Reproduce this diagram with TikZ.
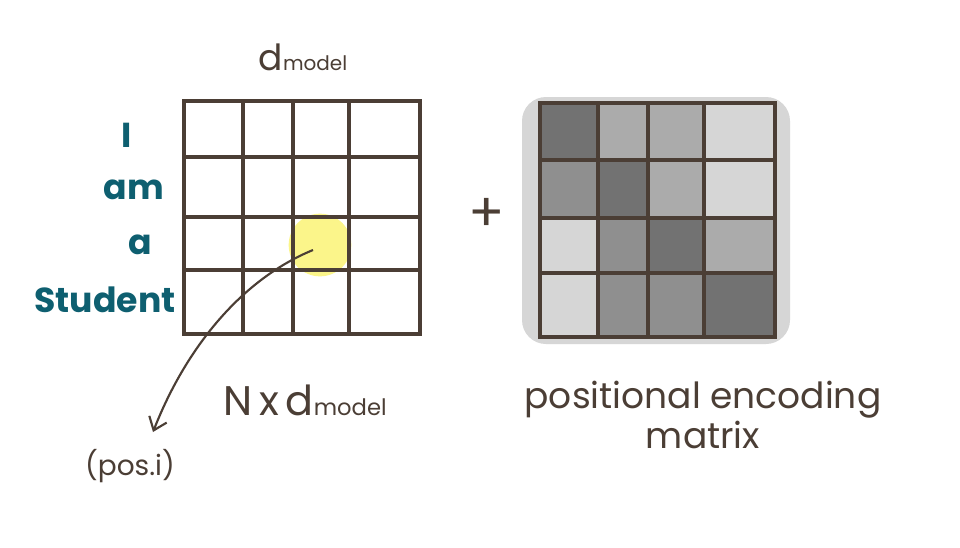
\documentclass[tikz,border=0pt]{standalone}
\usepackage{fontspec}
\setmainfont{Poppins}
\usetikzlibrary{arrows.meta}
\definecolor{ink}{HTML}{4B3E35}
\definecolor{wordblue}{HTML}{0E5F70}
\definecolor{hilite}{HTML}{FBF58A}
\definecolor{peA}{HTML}{D6D6D6}
\definecolor{peB}{HTML}{ABABAB}
\definecolor{peC}{HTML}{8F8F8F}
\definecolor{peD}{HTML}{727272}

\begin{document}
\begin{tikzpicture}[x=0.75pt, y=-0.75pt, line width=3.6pt,
    every node/.style={text=ink, inner sep=0pt},
    word/.style={text=wordblue, font=\bfseries\fontsize{26}{26}\selectfont},
    hand/.style={font=\fontsize{27}{30}\selectfont, align=center}]
      \useasboundingbox[fill=white] (0,0) rectangle (960,547);

      % word matrix
      \node[circle, fill=hilite, minimum size=47pt] (hl) at (320,245) {};
      \draw[ink] (184,101) rectangle (420,334);
      \draw[ink] (243,101) -- (243,334);
      \draw[ink] (293,101) -- (293,334);
      \draw[ink] (349,101) -- (349,334);
      \draw[ink] (184,157) -- (420,157);
      \draw[ink] (184,217) -- (420,217);
      \draw[ink] (184,270) -- (420,270);

      \node[word] (w1) at (127,135) {I};
      \node[word] (w2) at (134,190) {am};
      \node[word] (w3) at (140,245) {a};
      \node[word, anchor=east] (w4) at (178,300) {Student};

      \node[hand] (dtop) at (303,57) {d\fontsize{15}{15}\selectfont model};
      \node[hand, font=\fontsize{31}{31}\selectfont] (nd) at (305,400) {N\,x\,d\fontsize{17}{17}\selectfont model};
      \node[font=\fontsize{21}{21}\selectfont] (pos) at (130,466) {(pos.i)};

      \coordinate (hlpt) at (313,250);
      \draw[ink, line width=1.6pt, -{Straight Barb[length=9pt, width=14pt]}]
        (hlpt) .. controls (240,280) and (185,350) .. (153,432);

      \node[font=\fontsize{40}{40}\selectfont] (plus) at (487,215) {+};

      % positional encoding matrix
      \fill[peA, rounded corners=18pt] (522,97) rectangle (790,344);
      \fill[peD] (540,103) rectangle (598,160);
      \fill[peB] (598,103) rectangle (704,160);
      \fill[peC] (540,160) rectangle (598,218);
      \fill[peD] (598,160) rectangle (648,218);
      \fill[peB] (648,160) rectangle (704,218);
      \fill[peC] (598,218) rectangle (648,273);
      \fill[peD] (648,218) rectangle (704,273);
      \fill[peB] (704,218) rectangle (775,273);
      \fill[peC] (598,273) rectangle (704,337);
      \fill[peD] (704,273) rectangle (775,337);
      \draw[ink] (540,103) rectangle (775,337);
      \draw[ink] (598,103) -- (598,337);
      \draw[ink] (648,103) -- (648,337);
      \draw[ink] (704,103) -- (704,337);
      \draw[ink] (540,160) -- (775,160);
      \draw[ink] (540,218) -- (775,218);
      \draw[ink] (540,273) -- (775,273);

      \node[hand] (pe) at (703,415) {positional encoding\\matrix};

    \end{tikzpicture}
\end{document}
